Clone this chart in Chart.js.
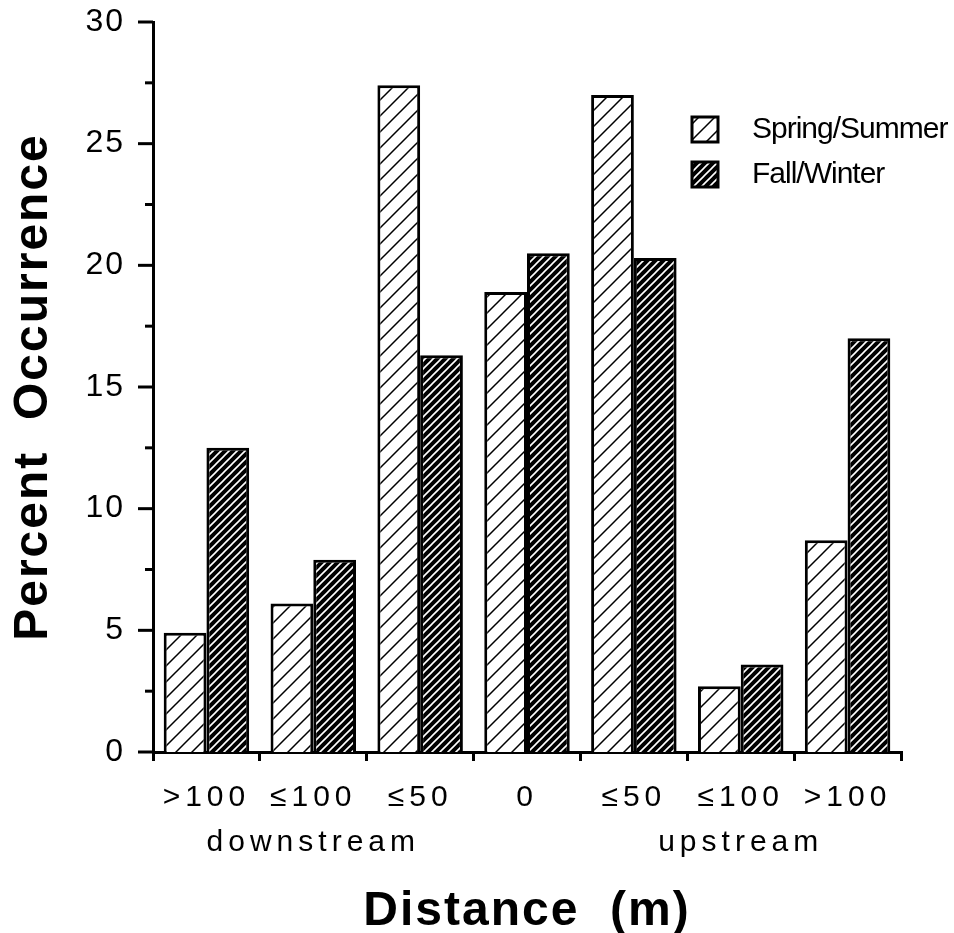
<!DOCTYPE html>
<html>
<head>
<meta charset="utf-8">
<title>Percent Occurrence by Distance</title>
<script src="https://cdn.jsdelivr.net/npm/chart.js@4/dist/chart.umd.min.js"></script>
<style>
  html, body { margin: 0; padding: 0; background: #fff; }
  canvas { display: block; }
</style>
</head>
<body>
<canvas id="myChart" width="954" height="933"></canvas>
<script>
const categories = ['>100', ['≤100', 'downstream'], '≤50', '0', '≤50', ['≤100', 'upstream'], '>100'];
const springSummer = [4.9, 6.1, 27.4, 18.9, 27.0, 2.7, 8.7];
const fallWinter = [12.5, 7.9, 16.3, 20.5, 20.3, 3.6, 17.0];
const yTicks = [0, 5, 10, 15, 20, 25, 30];

// diagonal hatch fill
function hatch(bg, fg, size, lw) {
    const c = document.createElement('canvas');
    c.width = size;
    c.height = size;
    const g = c.getContext('2d');
    g.fillStyle = bg;
    g.fillRect(0, 0, size, size);
    g.strokeStyle = fg;
    g.lineWidth = lw;
    g.beginPath();
    g.moveTo(-1, size + 1);
    g.lineTo(size + 1, -1);
    g.moveTo(-2, 2);
    g.lineTo(2, -2);
    g.moveTo(size - 2, size + 2);
    g.lineTo(size + 2, size - 2);
    g.stroke();
    return g.createPattern(c, 'repeat');
}

const lightHatch = hatch('#fff', '#000', 16, 1.5);
const darkHatch = hatch('#000', '#fff', 8, 1.6);

Chart.defaults.font.family = "'Liberation Sans', Arial, sans-serif";
Chart.defaults.color = '#000';

// letter spacing like the old typeset figure
const spacing = {
    id: 'spacing',
    beforeDraw(chart) {
        chart.ctx.letterSpacing = '2px';
        const xs = chart.scales.x;
        if (!xs._spaced) {
            const orig = xs.drawLabels;
            xs.drawLabels = function (area) {
                this.ctx.letterSpacing = '5px';
                orig.call(this, area);
                this.ctx.letterSpacing = '2px';
            };
            xs._spaced = true;
        }
    },
    afterDraw(chart) {
        chart.ctx.letterSpacing = '0px';
    }
};

// y ticks: long at labelled values, short in between
const yTickMarks = {
    id: 'yTickMarks',
    afterDraw(chart) {
        const ctx = chart.ctx;
        const ys = chart.scales.y;
        const left = chart.chartArea.left;
        ctx.save();
        ctx.strokeStyle = '#000';
        ctx.lineWidth = 3;
        ys.ticks.forEach(t => {
            const y = ys.getPixelForValue(t.value);
            const len = yTicks.includes(t.value) ? 15 : 8;
            ctx.beginPath();
            ctx.moveTo(left - len, y);
            ctx.lineTo(left, y);
            ctx.stroke();
        });
        ctx.restore();
    }
};

const boxLegend = {
    id: 'boxLegend',
    afterDraw(chart) {
        const ctx = chart.ctx;
        ctx.save();
        ctx.font = "30px 'Liberation Sans', Arial, sans-serif";
        ctx.letterSpacing = '-1px';
        ctx.textBaseline = 'middle';
        chart.data.datasets.forEach((ds, i) => {
            const x = 692, y = 117 + i * 45;
            ctx.fillStyle = ds.backgroundColor;
            ctx.fillRect(x, y, 26, 25);
            ctx.strokeStyle = '#000';
            ctx.lineWidth = 3;
            ctx.strokeRect(x, y, 26, 25);
            ctx.fillStyle = '#000';
            ctx.fillText(ds.label, 752, y + 13);
        });
        ctx.restore();
    }
};

const ctx = document.getElementById('myChart');
const myChart = new Chart(ctx, {
    type: 'bar',
    data: {
        labels: categories,
        datasets: [{
                label: 'Spring/Summer',
                data: springSummer,
                backgroundColor: lightHatch,
                borderColor: '#000',
                borderWidth: 3,
                categoryPercentage: 0.8,
                barPercentage: 1.0
            },
            {
                label: 'Fall/Winter',
                data: fallWinter,
                backgroundColor: darkHatch,
                borderColor: '#000',
                borderWidth: 3,
                categoryPercentage: 0.8,
                barPercentage: 1.0
            }
        ]
    },
    options: {
        responsive: false,
        animation: false,
        devicePixelRatio: 1,
        layout: {
            padding: { top: 22, right: 53, left: 0, bottom: 0 }
        },
        plugins: {
            legend: { display: false },
            tooltip: { enabled: false }
        },
        scales: {
            x: {
                afterFit(s) { s.height = 181; },
                grid: {
                    display: true,
                    drawOnChartArea: false,
                    drawTicks: true,
                    tickLength: 9,
                    color: '#000',
                    lineWidth: 3
                },
                border: { display: true, color: '#000', width: 3 },
                ticks: {
                    autoSkip: false,
                    maxRotation: 0,
                    padding: 14,
                    font: { size: 30, lineHeight: 1.5 }
                },
                title: {
                    display: true,
                    text: 'Distance  (m)',
                    font: { size: 48, weight: 'bold', lineHeight: 0.9 },
                    padding: { top: 0, bottom: 0 }
                }
            },
            y: {
                min: 0,
                max: 30,
                afterFit(s) {
                    s.width = 153;
                    s.paddingTop = 0;
                    s.paddingBottom = 0;
                },
                grid: { display: false },
                border: { display: true, color: '#000', width: 3 },
                ticks: {
                    stepSize: 2.5,
                    padding: 20,
                    font: { size: 32 },
                    callback: v => yTicks.includes(v) ? v : ''
                },
                title: {
                    display: true,
                    text: 'Percent  Occurrence',
                    font: { size: 48, weight: 'bold', lineHeight: 1 },
                    padding: { top: 10, bottom: 0 }
                }
            }
        }
    },
    plugins: [spacing, yTickMarks, boxLegend]
});
</script>
</body>
</html>
